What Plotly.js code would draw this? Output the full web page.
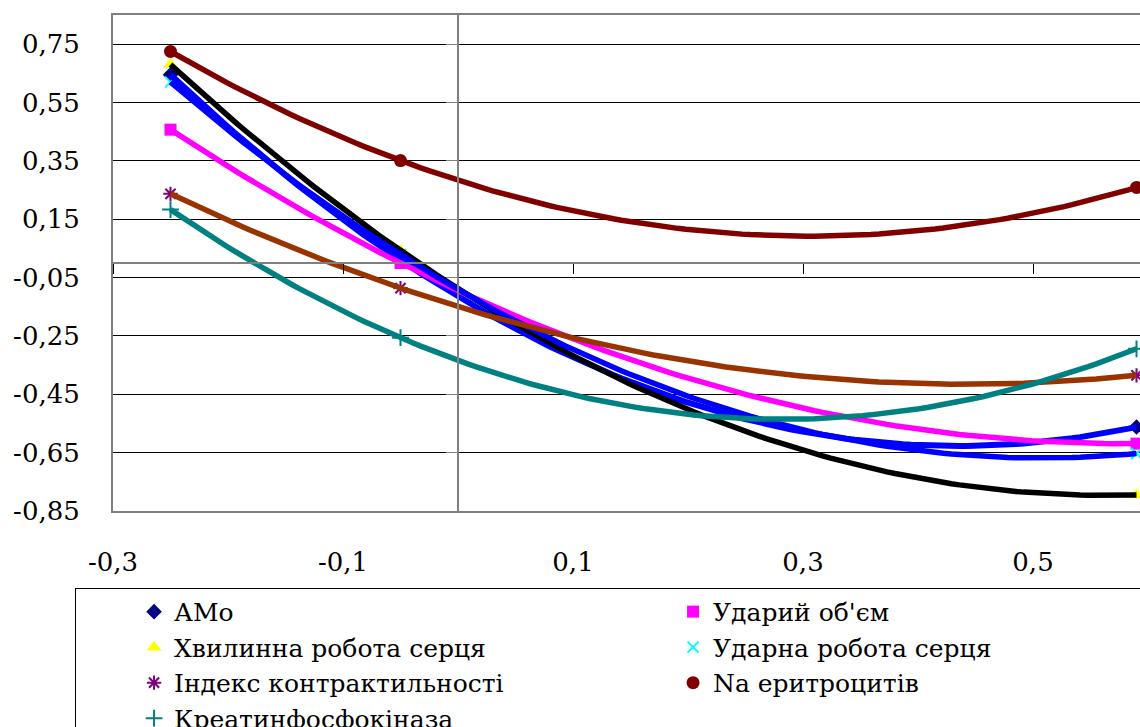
<!DOCTYPE html>
<html><head><meta charset="utf-8">
<script src="https://cdn.plot.ly/plotly-3.0.1.min.js"></script>
<style>html,body{margin:0;padding:0;overflow:hidden;background:#fff}#chart{width:1283px;height:727px}</style>
</head><body><div id="chart"></div>
<script>
// ---- data ----
const seriesNames = ['АМо', 'Ударий об\'єм', 'Хвилинна робота серця', 'Ударна робота серця',
                     'Індекс контрактильності', 'Na еритроцитів', 'Креатинфосфокіназа'];
const xValues = [-0.25, -0.05, 0.59];
const amo = [0.645, 0.01, -0.562];
const udaryiObem = [0.457, 0.0, -0.619];
const khvylynnaRobota = [0.68, 0.043, -0.795];
const udarnaRobota = [0.62, 0.029, -0.653];
const indeksKontr = [0.237, -0.086, -0.385];
const naErytr = [0.725, 0.351, 0.259];
const kreatyn = [0.183, -0.256, -0.294];
const yTickVals = [-0.85, -0.65, -0.45, -0.25, -0.05, 0.15, 0.35, 0.55, 0.75];
const yTickText = ['-0,85', '-0,65', '-0,45', '-0,25', '-0,05', '0,15', '0,35', '0,55', '0,75'];
const xTickVals = [-0.3, -0.1, 0.1, 0.3, 0.5, 0.7];
const xTickText = ['-0,3', '-0,1', '0,1', '0,3', '0,5', '0,7'];

// ---- styles ----
const allSeries = [amo, udaryiObem, khvylynnaRobota, udarnaRobota, indeksKontr, naErytr, kreatyn];
const markerStyles = [
  {symbol: 'diamond', color: '#000080', size: 12},
  {symbol: 'square', color: '#FF00FF', size: 12},
  {symbol: 'triangle-up', color: '#FFFF00', size: 13},
  {symbol: 'x-thin', color: '#00FFFF', size: 11, line: {color: '#00FFFF', width: 2}},
  {symbol: 'asterisk', color: '#800080', size: 12, line: {color: '#800080', width: 2}},
  {symbol: 'circle', color: '#800000', size: 13},
  {symbol: 'cross-thin', color: '#008080', size: 12, line: {color: '#008080', width: 2}}
];
const trendColors = ['#0000FF', '#FF00FF', '#000000', '#0000FF', '#993300', '#800000', '#008080'];
const trendWidths = [6, 5.5, 5.5, 5.5, 5.5, 5.5, 5.5];

// Excel-like polynomial (order 2) trendline by least squares
function polyfit2(xs, ys) {
  const n = 3, A = [], b = [];
  for (let i = 0; i < n; i++) {
    A.push([]);
    for (let j = 0; j < n; j++) A[i].push(xs.reduce((s, x) => s + Math.pow(x, i + j), 0));
    b.push(xs.reduce((s, x, k) => s + Math.pow(x, i) * ys[k], 0));
  }
  for (let c = 0; c < n; c++) {
    let p = c;
    for (let r = c + 1; r < n; r++) if (Math.abs(A[r][c]) > Math.abs(A[p][c])) p = r;
    [A[c], A[p]] = [A[p], A[c]]; [b[c], b[p]] = [b[p], b[c]];
    for (let r = c + 1; r < n; r++) {
      const f = A[r][c] / A[c][c];
      for (let k = c; k < n; k++) A[r][k] -= f * A[c][k];
      b[r] -= f * b[c];
    }
  }
  const coef = new Array(n).fill(0);
  for (let r = n - 1; r >= 0; r--) {
    let s = b[r];
    for (let k = r + 1; k < n; k++) s -= A[r][k] * coef[k];
    coef[r] = s / A[r][r];
  }
  return coef;
}

const font = {family: 'DejaVu Serif, Liberation Serif, serif', color: '#000'};
const traces = [];
allSeries.forEach((ys, i) => {
  traces.push({
    type: 'scatter', mode: 'markers', x: xValues, y: ys, name: seriesNames[i],
    marker: markerStyles[i], showlegend: true, hoverinfo: 'x+y+name', cliponaxis: false
  });
});
allSeries.forEach((ys, i) => {
  const c = polyfit2(xValues, ys);
  const x0 = Math.min(...xValues), x1 = Math.max(...xValues);
  const tx = [], ty = [];
  for (let k = 0; k <= 120; k++) {
    const x = x0 + (x1 - x0) * k / 120;
    tx.push(x); ty.push(c[0] + c[1] * x + c[2] * x * x);
  }
  traces.push({
    type: 'scatter', mode: 'lines', x: tx, y: ty, showlegend: false, hoverinfo: 'skip',
    line: {color: trendColors[i], width: trendWidths[i]}
  });
});
// carrier for the crossing axes
traces.push({type: 'scatter', x: [], y: [], xaxis: 'x2', yaxis: 'y2', showlegend: false, hoverinfo: 'skip'});

const layout = {
  width: 1283, height: 727,
  margin: {l: 113, r: 20, t: 15, b: 216, autoexpand: false},
  paper_bgcolor: '#fff', plot_bgcolor: '#fff',
  font: Object.assign({size: 26}, font),
  showlegend: true,
  xaxis: {
    range: [-0.3, 0.7], tickvals: xTickVals, ticktext: xTickText,
    showgrid: false, zeroline: false, showline: true, mirror: true,
    linecolor: '#808080', linewidth: 2, ticks: '', ticklabelstandoff: 27,
    tickfont: Object.assign({size: 26}, font), fixedrange: true, automargin: false
  },
  yaxis: {
    range: [-0.85, 0.85], tickvals: yTickVals, ticktext: yTickText,
    showgrid: true, gridcolor: '#000', gridwidth: 1, zeroline: false,
    showline: true, mirror: true, linecolor: '#808080', linewidth: 2, ticks: '',
    ticklabelstandoff: 26, tickfont: Object.assign({size: 26}, font), fixedrange: true, automargin: false
  },
  xaxis2: {
    overlaying: 'x', anchor: 'free', position: 0.5, range: [-0.3, 0.7],
    tickvals: xTickVals, showticklabels: false, showgrid: false, zeroline: false,
    showline: true, linecolor: '#808080', linewidth: 2,
    ticks: 'outside', ticklen: 10, tickwidth: 1, tickcolor: '#000', fixedrange: true
  },
  yaxis2: {
    overlaying: 'y', anchor: 'free', position: 0.3, range: [-0.85, 0.85],
    tickvals: yTickVals, showticklabels: false, showgrid: false, zeroline: false,
    showline: true, linecolor: '#808080', linewidth: 2,
    ticks: 'outside', ticklen: 11, tickwidth: 1, tickcolor: '#808080', fixedrange: true
  },
  legend: {
    orientation: 'h', x: -0.033, xanchor: 'left', y: -0.155, yanchor: 'top',
    entrywidth: 436, entrywidthmode: 'pixels', indentation: 58,
    bordercolor: '#000', borderwidth: 1, bgcolor: '#fff',
    font: Object.assign({size: 25}, font), traceorder: 'normal'
  }
};
Plotly.newPlot('chart', traces, layout, {displayModeBar: false, staticPlot: true});
</script>
</body></html>
